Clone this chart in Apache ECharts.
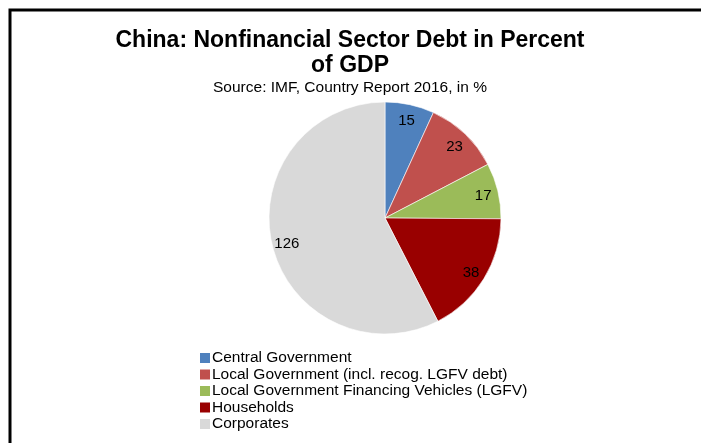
<!DOCTYPE html>
<html>
<head>
<meta charset="utf-8">
<script src="https://cdn.jsdelivr.net/npm/echarts@6/dist/echarts.min.js"></script>
<style>
html,body{margin:0;padding:0;background:#fff;}
#chart{width:701px;height:443px;}
</style>
</head>
<body>
<div id="chart"></div>
<script>
const categories = [
  "Central Government",
  "Local Government (incl. recog. LGFV debt)",
  "Local Government Financing Vehicles (LGFV)",
  "Households",
  "Corporates"
];
const values = [15, 23, 17, 38, 126];
const colors = ["#4F81BD", "#C0504D", "#9BBB59", "#990000", "#D9D9D9"];

const FONT = "Liberation Sans, Arial, sans-serif";
const chart = echarts.init(document.getElementById('chart'), null, {renderer: 'canvas'});

const pieData = categories.map((c, i) => ({name: c, value: values[i], itemStyle: {color: colors[i]}}));
const labelData = categories.map((c, i) => ({name: c, value: values[i]}));

chart.setOption({
  backgroundColor: '#ffffff',
  animation: false,
  title: {
    text: 'China: Nonfinancial Sector Debt in Percent\nof GDP',
    subtext: 'Source: IMF, Country Report 2016, in %',
    left: 350,
    top: 28,
    textAlign: 'center',
    itemGap: 2,
    padding: 0,
    textStyle: {fontFamily: FONT, fontSize: 23, fontWeight: 'bold', color: '#000', lineHeight: 25},
    subtextStyle: {fontFamily: FONT, fontSize: 15.5, color: '#000', lineHeight: 16}
  },
  legend: {
    data: categories,
    orient: 'vertical',
    left: 198,
    top: 350,
    padding: 0,
    itemWidth: 12,
    itemHeight: 12,
    itemGap: 0.5,
    icon: 'rect',
    selectedMode: false,
    textStyle: {fontFamily: FONT, fontSize: 15.5, color: '#000', lineHeight: 14, padding: [0, 0, 0, -4]}
  },
  graphic: [{
    type: 'rect',
    shape: {x: 10, y: 10, width: 700, height: 450},
    style: {fill: 'none', stroke: '#000', lineWidth: 3},
    silent: true,
    z: 100
  }],
  series: [{
    type: 'pie',
    center: [385, 218],
    radius: [0, 116],
    startAngle: 90,
    clockwise: true,
    data: pieData,
    label: {show: false},
    labelLine: {show: false},
    itemStyle: {borderColor: '#ffffff', borderWidth: 0.6},
    emphasis: {disabled: true}
  }, {
    type: 'pie',
    center: [385, 218],
    radius: [80, 116],
    startAngle: 90,
    clockwise: true,
    silent: true,
    data: labelData,
    itemStyle: {color: 'rgba(0,0,0,0)'},
    label: {
      show: true,
      position: 'inside',
      formatter: '{c}',
      fontFamily: FONT,
      fontSize: 15,
      color: '#000',
      offset: [0, 2]
    },
    labelLine: {show: false},
    emphasis: {disabled: true}
  }]
});
</script>
</body>
</html>
